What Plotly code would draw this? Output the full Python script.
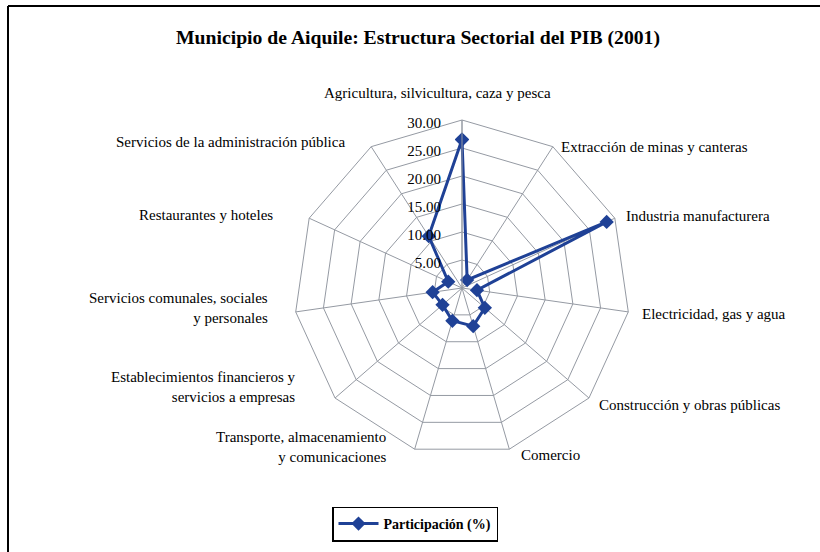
import plotly.graph_objects as go

categories = [
    "Agricultura, silvicultura, caza y pesca",
    "Extracción de minas y canteras",
    "Industria manufacturera",
    "Electricidad, gas y agua",
    "Construcción y obras públicas",
    "Comercio",
    "Transporte, almacenamiento<br>y comunicaciones",
    "Establecimientos financieros y<br>servicios a empresas",
    "Servicios comunales, sociales<br>y personales",
    "Restaurantes y hoteles",
    "Servicios de la administración pública",
]
participacion = [26.5, 1.7, 28.4, 2.7, 5.4, 7.1, 6.1, 4.6, 5.3, 2.7, 11.0]
radial_ticks = [5, 10, 15, 20, 25, 30]

W, H = 820, 552
cx, cy, R = 462, 288, 168
FONT = "Liberation Serif, Times New Roman, serif"
BLUE = "#1F4196"
GRID = "#959AA3"

# label placement (pixel anchor, xanchor) for each category, Excel-like
label_pos = [
    (437, 93, "center"),
    (559, 147, "left"),
    (624, 216, "left"),
    (640, 314, "left"),
    (597, 405, "left"),
    (519, 455, "left"),
    (388, 447, "right"),
    (298, 387, "right"),
    (270, 308, "right"),
    (275, 215, "right"),
    (347, 142, "right"),
]

fig = go.Figure()
fig.add_trace(go.Scatterpolar(
    r=participacion + participacion[:1],
    theta=categories + categories[:1],
    mode="lines+markers",
    name="<b>Participación (%)</b>",
    line=dict(color=BLUE, width=3),
    marker=dict(symbol="diamond", size=11, color=BLUE),
))

annotations = []
for name, (px, py, xa) in zip(categories, label_pos):
    annotations.append(dict(
        text=name, xref="paper", yref="paper", x=px / W, y=1 - py / H,
        xanchor=xa, yanchor="middle", align=xa,
        showarrow=False, font=dict(family=FONT, size=15, color="black"),
    ))

fig.update_layout(
    width=W, height=H,
    margin=dict(l=0, r=0, t=0, b=0),
    paper_bgcolor="white",
    font=dict(family=FONT, size=15, color="black"),
    title=dict(text="<b>Municipio de Aiquile: Estructura Sectorial del PIB (2001)</b>",
               x=418 / W, xanchor="center", y=1 - 37 / H, yanchor="middle",
               font=dict(family=FONT, size=19.7, color="black")),
    polar=dict(
        domain=dict(x=[(cx - R) / W, (cx + R) / W],
                    y=[(H - cy - R) / H, (H - cy + R) / H]),
        gridshape="linear",
        bgcolor="white",
        radialaxis=dict(range=[0, 30], tickvals=radial_ticks,
                        ticktext=[f"{v:.2f}" for v in radial_ticks],
                        tickfont=dict(family=FONT, size=15, color="black"),
                        angle=90, side="counterclockwise",
                        showline=True, linecolor=GRID, linewidth=1,
                        gridcolor=GRID, gridwidth=1,
                        ticks="outside", ticklen=7, tickcolor="rgba(0,0,0,0)"),
        angularaxis=dict(direction="clockwise", rotation=90,
                         showticklabels=False,
                         showline=True, linecolor=GRID, linewidth=1,
                         gridcolor=GRID, gridwidth=1, ticks=""),
    ),
    annotations=annotations,
    showlegend=True,
    legend=dict(orientation="h", x=415 / W, xanchor="center",
                y=1 - 524 / H, yanchor="middle",
                bordercolor="black", borderwidth=1.5, bgcolor="white",
                font=dict(family=FONT, size=14, color="black"),
                itemwidth=40),
    shapes=[
        dict(type="line", xref="paper", yref="paper", x0=8 / W, x1=1, y0=1 - 6 / H, y1=1 - 6 / H,
             line=dict(color="black", width=2)),
        dict(type="line", xref="paper", yref="paper", x0=8 / W, x1=8 / W, y0=0, y1=1 - 6 / H,
             line=dict(color="black", width=2)),
    ],
)

fig.write_html("out.html", config={"displayModeBar": False},
               post_script="document.body.style.margin='0px';")
